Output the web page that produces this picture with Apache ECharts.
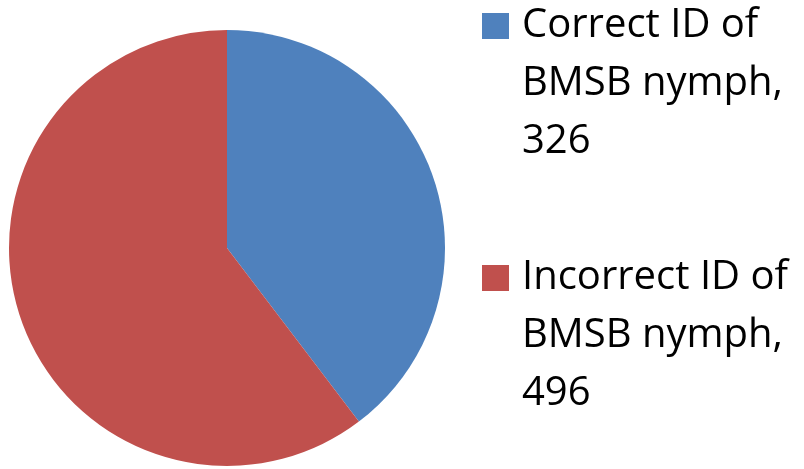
<!DOCTYPE html>
<html>
<head>
<meta charset="utf-8">
<script src="https://cdn.jsdelivr.net/npm/echarts@6/dist/echarts.min.js"></script>
<style>html,body{margin:0;padding:0;background:#fff}#c{width:804px;height:469px}</style>
</head>
<body>
<div id="c"></div>
<script>
const categories = ["Correct ID of BMSB nymph", "Incorrect ID of BMSB nymph"];
const legendLines = [["Correct ID of", "BMSB nymph,"], ["Incorrect ID of", "BMSB nymph,"]];
const values = [326, 496];
const colors = ["#4F81BD", "#C0504D"];

const chart = echarts.init(document.getElementById('c'), null, {renderer: 'canvas'});
const FONT = '"Open Sans", Lato, sans-serif';
const LH = 58;
function legendFor(i, top) {
  return {
    show: true,
    data: [categories[i]],
    orient: 'vertical',
    left: 482,
    top: top,
    padding: 0,
    itemWidth: 27,
    itemHeight: 26,
    itemGap: 0,
    icon: 'rect',
    selectedMode: false,
    formatter: function (name) {
      const idx = categories.indexOf(name);
      return ['', ''].concat(legendLines[idx], [String(values[idx])]).join('\n');
    },
    textStyle: {
      fontFamily: FONT,
      fontSize: 40,
      color: '#000',
      lineHeight: LH,
      padding: [0, 0, 0, 8]
    }
  };
}
chart.setOption({
  animation: false,
  legend: [legendFor(0, 13 - 132), legendFor(1, 265 - 132)],
  series: [{
    type: 'pie',
    center: [227, 248],
    radius: 218,
    startAngle: 90,
    clockwise: true,
    label: {show: false},
    labelLine: {show: false},
    emphasis: {disabled: true},
    itemStyle: {borderWidth: 0},
    data: categories.map((c, i) => ({name: c, value: values[i], itemStyle: {color: colors[i]}}))
  }]
});
</script>
</body>
</html>
